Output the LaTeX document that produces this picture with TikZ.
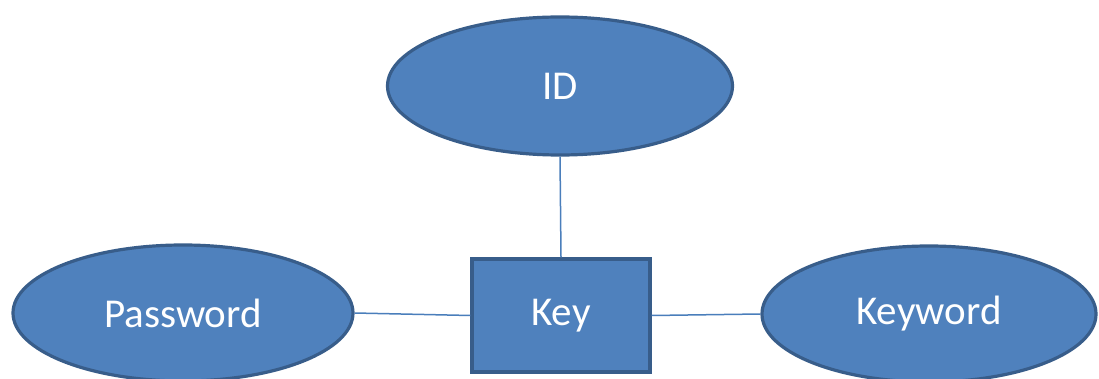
\documentclass[tikz,border=0pt]{standalone}
\usepackage{fontspec}
\setmainfont{Carlito}
\usetikzlibrary{shapes.geometric}
\definecolor{fillblue}{HTML}{4F81BD}
\definecolor{edgeblue}{HTML}{385D8A}
\definecolor{linkblue}{HTML}{4A7EBB}
\tikzset{
  attr/.style={ellipse, draw=edgeblue, fill=fillblue, line width=3.2pt, inner sep=0pt, text=white, font=\fontsize{41}{48}\selectfont},
  entity/.style={rectangle, draw=edgeblue, fill=fillblue, line width=3.2pt, inner sep=0pt, text=white, font=\fontsize{41}{48}\selectfont},
  link/.style={draw=linkblue, line width=1.5pt}
}
\begin{document}
\begin{tikzpicture}[x=1pt, y=-1pt]
\fill[white] (0,0) rectangle (1099,379);
\useasboundingbox (0,0) rectangle (1099,379);
\node[attr, minimum width=345pt, minimum height=138pt] (id) at (560,86) {ID};
\node[attr, minimum width=340pt, minimum height=136pt] (pw) at (183,313) {Password};
\node[attr, minimum width=334pt, minimum height=136pt] (kw) at (929,314) {Keyword};
\node[entity, minimum width=178pt, minimum height=113pt] (key) at (561,315.5) {Key};
\draw[link] (id.south) -- (key.north);
\draw[link] (pw.east) -- (key.west);
\draw[link] (key.east) -- (kw.west);
\end{tikzpicture}
\end{document}
